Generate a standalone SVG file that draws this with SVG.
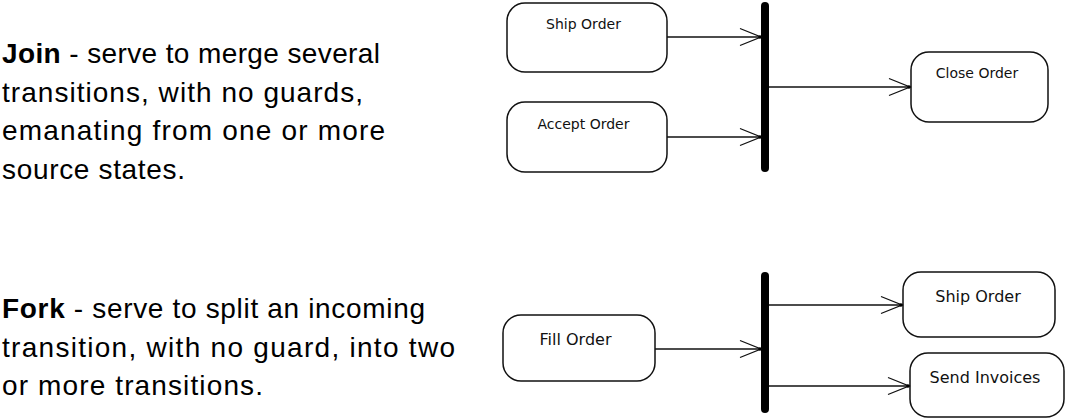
<svg xmlns="http://www.w3.org/2000/svg" width="1065" height="419" viewBox="0 0 1065 419">
<style>
.bg{fill:#fff}
.desc{font-family:"Liberation Sans",Arial,sans-serif;font-size:28px;fill:#000}
.desc .b{font-weight:bold}
.state{fill:#fff;stroke:#111;stroke-width:1.5}
.lbl{font-family:"DejaVu Sans",Verdana,sans-serif;fill:#111;text-anchor:middle}
.lbl.s{font-size:14px}
.lbl.l{font-size:16px}
.bar{stroke:#000;stroke-width:8;stroke-linecap:round}
.conn{stroke:#111;stroke-width:1.4;fill:none}
</style>
<defs>
<marker id="arr" markerUnits="userSpaceOnUse" viewBox="-24 -11 26 22" refX="0" refY="0" markerWidth="26" markerHeight="22" orient="auto" overflow="visible">
<path d="M-21,-8.5 L0,0 L-21,8.5" fill="none" stroke="#111" stroke-width="1.3"/>
<circle cx="-1" cy="0" r="1.8" fill="#000"/>
</marker>
</defs>
<rect class="bg" x="0" y="0" width="1065" height="419"/>

<g id="join-desc" class="desc">
<text x="2" y="63" textLength="378" lengthAdjust="spacing"><tspan class="b">Join</tspan> - serve to merge several</text>
<text x="2" y="101.5" textLength="361" lengthAdjust="spacing">transitions, with no guards,</text>
<text x="2" y="140" textLength="383" lengthAdjust="spacing">emanating from one or more</text>
<text x="2" y="178.5" textLength="183" lengthAdjust="spacing">source states.</text>
</g>

<g id="fork-desc" class="desc">
<text x="2" y="318" textLength="423" lengthAdjust="spacing"><tspan class="b">Fork</tspan> - serve to split an incoming</text>
<text x="2" y="356.5" textLength="453" lengthAdjust="spacing">transition, with no guard, into two</text>
<text x="2" y="395" textLength="261" lengthAdjust="spacing">or more transitions.</text>
</g>

<g id="join-ship-order">
<rect class="state" x="507" y="3" width="160" height="69" rx="18"/>
<text class="lbl s" x="583.5" y="29">Ship Order</text>
</g>
<g id="join-accept-order">
<rect class="state" x="507" y="102" width="160" height="70" rx="18"/>
<text class="lbl s" x="583.5" y="129">Accept Order</text>
</g>
<g id="join-bar">
<line class="bar" x1="765" y1="6" x2="765" y2="168"/>
</g>
<g id="join-close-order">
<rect class="state" x="911" y="52" width="137" height="70" rx="18"/>
<text class="lbl s" x="977" y="78">Close Order</text>
</g>

<g id="fork-fill-order">
<rect class="state" x="503" y="315" width="152" height="66" rx="18"/>
<text class="lbl l" x="575.5" y="345">Fill Order</text>
</g>
<g id="fork-bar">
<line class="bar" x1="765" y1="276" x2="765" y2="409"/>
</g>
<g id="fork-ship-order">
<rect class="state" x="903" y="272" width="152" height="65" rx="18"/>
<text class="lbl l" x="978" y="301.5">Ship Order</text>
</g>
<g id="fork-send-invoices">
<rect class="state" x="910" y="353" width="154" height="64" rx="18"/>
<text class="lbl l" x="985" y="382.5">Send Invoices</text>
</g>

<g id="connectors">
<line class="conn" x1="667" y1="37" x2="761" y2="37" marker-end="url(#arr)"/>
<line class="conn" x1="667" y1="137" x2="761" y2="137" marker-end="url(#arr)"/>
<line class="conn" x1="769" y1="87" x2="910" y2="87" marker-end="url(#arr)"/>
<line class="conn" x1="655" y1="349" x2="761" y2="349" marker-end="url(#arr)"/>
<line class="conn" x1="769" y1="305" x2="902" y2="305" marker-end="url(#arr)"/>
<line class="conn" x1="769" y1="386" x2="909" y2="386" marker-end="url(#arr)"/>
</g>
</svg>
